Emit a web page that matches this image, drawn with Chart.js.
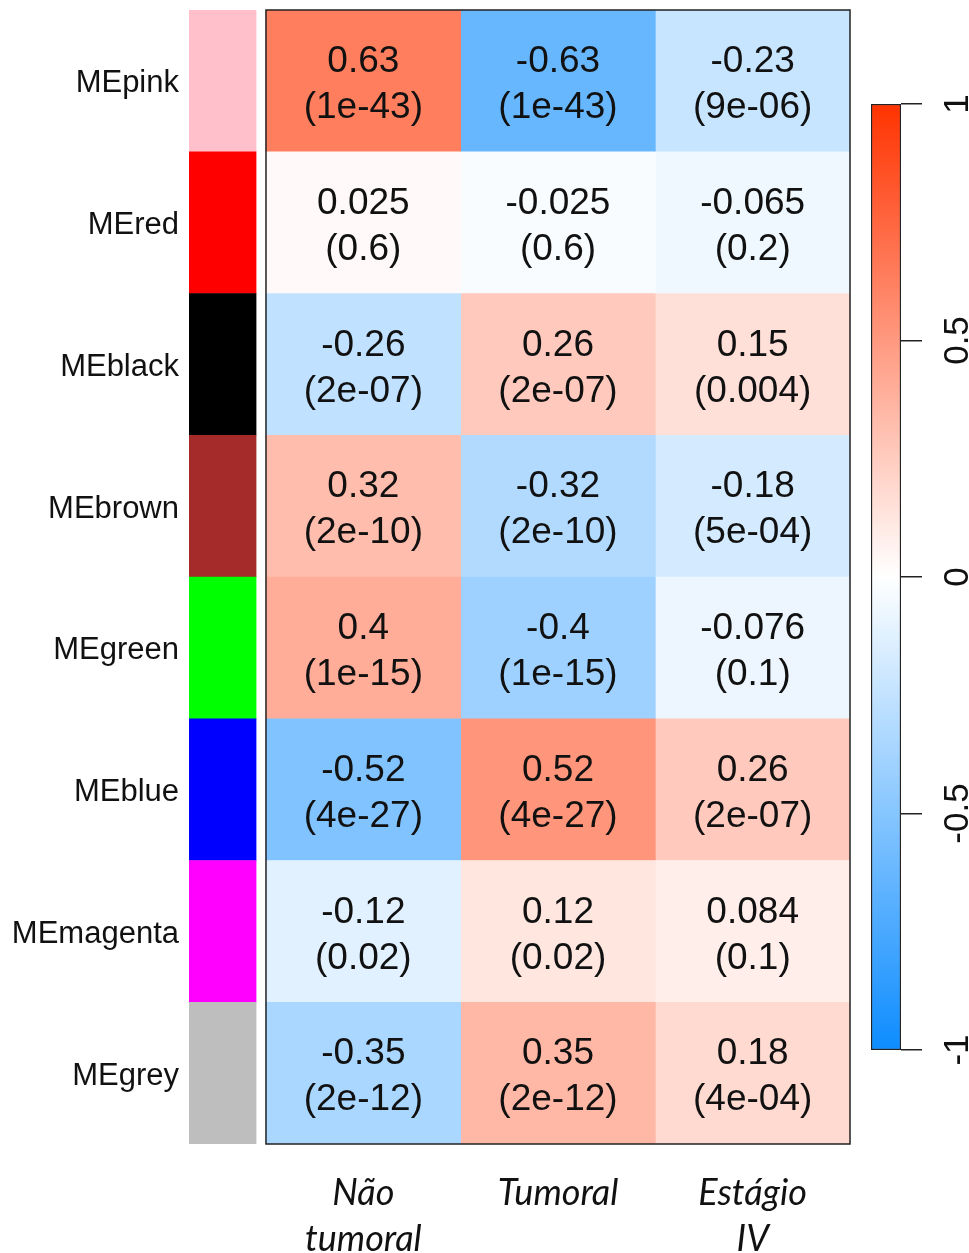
<!DOCTYPE html>
<html lang="pt">
<head>
    <meta charset="UTF-8">
    <title>Module-trait heatmap</title>
    <script src="https://cdn.jsdelivr.net/npm/chart.js"></script>
    <style>
        body { margin: 0; background: #fff; }
        #wrap { position: relative; width: 969px; height: 1253px; }
        #heatBox { position: absolute; left: 0; top: 0; width: 860px; height: 1253px; }
        #barBox { position: absolute; left: 860px; top: 0; width: 109px; height: 1253px; }
    </style>
</head>
<body>
<div id="wrap">
    <div id="heatBox"><canvas id="heatChart"></canvas></div>
    <div id="barBox"><canvas id="scaleChart"></canvas></div>
</div>
<script>
    // module eigengenes (rows) and traits (columns)
    const modules = ['MEpink', 'MEred', 'MEblack', 'MEbrown', 'MEgreen', 'MEblue', 'MEmagenta', 'MEgrey'];
    const moduleColors = ['#FFC0CB', '#FF0000', '#000000', '#A52A2A', '#00FF00', '#0000FF', '#FF00FF', '#BEBEBE'];
    const traits = [['Não', 'tumoral'], 'Tumoral', ['Estágio', 'IV']];

    const corNaoTumoral = [0.63, 0.025, -0.26, 0.32, 0.4, -0.52, -0.12, -0.35];
    const corTumoral = [-0.63, -0.025, 0.26, -0.32, -0.4, 0.52, 0.12, 0.35];
    const corEstagioIV = [-0.23, -0.065, 0.15, -0.18, -0.076, 0.26, 0.084, 0.18];

    const pNaoTumoral = ['1e-43', '0.6', '2e-07', '2e-10', '1e-15', '4e-27', '0.02', '2e-12'];
    const pTumoral = ['1e-43', '0.6', '2e-07', '2e-10', '1e-15', '4e-27', '0.02', '2e-12'];
    const pEstagioIV = ['9e-06', '0.2', '0.004', '5e-04', '0.1', '2e-07', '0.1', '4e-04'];

    const scaleTicks = [-1, -0.5, 0, 0.5, 1];

    const corColumns = [corNaoTumoral, corTumoral, corEstagioIV];
    const pColumns = [pNaoTumoral, pTumoral, pEstagioIV];

    // blue - white - red palette
    const BLUE = [13, 140, 255];
    const RED = [255, 51, 0];
    function corColor(v) {
        const end = v < 0 ? BLUE : RED;
        const t = Math.min(1, Math.abs(v));
        const c = end.map(e => Math.round(255 + (e - 255) * t));
        return `rgb(${c[0]},${c[1]},${c[2]})`;
    }

    const X_MIN = -0.3955;      // room for the colour strip left of the heatmap
    const STRIP = [-0.3955, -0.051];

    const datasets = corColumns.map((col, c) => ({
        data: col.map(() => [c, c + 1]),
        backgroundColor: col.map(corColor),
        borderWidth: 0,
        grouped: false,
        barPercentage: 1,
        categoryPercentage: 1
    }));
    datasets.push({
        data: modules.map(() => STRIP),
        backgroundColor: moduleColors,
        borderWidth: 0,
        grouped: false,
        barPercentage: 1,
        categoryPercentage: 1
    });

    const cellText = {
        id: 'cellText',
        afterDatasetsDraw(chart) {
            const ctx = chart.ctx;
            const xs = chart.scales.x, ys = chart.scales.y;
            ctx.save();
            ctx.fillStyle = '#111';
            ctx.font = '37px "Liberation Sans", Arial, sans-serif';
            ctx.textAlign = 'center';
            ctx.textBaseline = 'middle';
            corColumns.forEach((col, c) => {
                const x = xs.getPixelForValue(c + 0.5);
                col.forEach((v, r) => {
                    const y = ys.getPixelForValue(r);
                    ctx.fillText(String(v), x, y - 19);
                    ctx.fillText('(' + pColumns[c][r] + ')', x, y + 27);
                });
            });
            // frame around the heatmap
            const a = chart.chartArea;
            const x0 = xs.getPixelForValue(0), x1 = xs.getPixelForValue(corColumns.length);
            ctx.strokeStyle = '#222';
            ctx.lineWidth = 1.5;
            ctx.strokeRect(x0, a.top, x1 - x0, a.bottom - a.top);
            ctx.restore();
        }
    };

    new Chart(document.getElementById('heatChart'), {
        type: 'bar',
        data: { labels: modules, datasets: datasets },
        options: {
            indexAxis: 'y',
            responsive: true,
            maintainAspectRatio: false,
            animation: false,
            layout: { padding: { top: 10, right: 10, bottom: 0, left: 0 } },
            plugins: { legend: { display: false }, tooltip: { enabled: false } },
            scales: {
                x: {
                    type: 'linear',
                    min: X_MIN,
                    max: 3,
                    grid: { display: false, drawTicks: false },
                    border: { display: false },
                    afterBuildTicks: s => { s.ticks = traits.map((_, i) => ({ value: i + 0.5 })); },
                    ticks: {
                        autoSkip: false,
                        maxRotation: 0,
                        minRotation: 0,
                        padding: 26,
                        color: '#111',
                        font: { family: 'Lato, "Open Sans", sans-serif', size: 36, style: 'italic', lineHeight: 1.28 },
                        callback: (v) => traits[Math.floor(v)]
                    },
                    afterFit: s => { s.height = 109; s.paddingLeft = 0; s.paddingRight = 0; }
                },
                y: {
                    type: 'category',
                    grid: { display: false, drawTicks: false },
                    border: { display: false },
                    ticks: {
                        padding: 10,
                        labelOffset: 3,
                        color: '#111',
                        font: { family: '"Liberation Sans", Arial, sans-serif', size: 31 }
                    },
                    afterFit: s => { s.width = 189; s.paddingTop = 0; s.paddingBottom = 0; }
                }
            }
        },
        plugins: [cellText]
    });

    // colour scale bar
    const scaleLabels = {
        id: 'scaleLabels',
        afterDraw(chart) {
            const ctx = chart.ctx;
            const ys = chart.scales.y;
            ctx.save();
            ctx.fillStyle = '#111';
            ctx.font = '35px "Liberation Sans", Arial, sans-serif';
            ctx.textAlign = 'center';
            ctx.textBaseline = 'middle';
            scaleTicks.forEach(t => {
                ctx.save();
                ctx.translate(98, ys.getPixelForValue(t));
                ctx.rotate(-Math.PI / 2);
                ctx.fillText(String(t), 0, 0);
                ctx.restore();
            });
            ctx.restore();
        }
    };

    new Chart(document.getElementById('scaleChart'), {
        type: 'bar',
        data: {
            labels: [''],
            datasets: [{
                data: [[-1, 1]],
                backgroundColor: (ctx) => {
                    const a = ctx.chart.chartArea;
                    if (!a) return '#fff';
                    const g = ctx.chart.ctx.createLinearGradient(0, a.bottom, 0, a.top);
                    g.addColorStop(0, corColor(-1));
                    g.addColorStop(0.5, corColor(0));
                    g.addColorStop(1, corColor(1));
                    return g;
                },
                borderColor: '#222',
                borderWidth: 1.5,
                borderSkipped: false,
                barPercentage: 1,
                categoryPercentage: 1
            }]
        },
        options: {
            responsive: true,
            maintainAspectRatio: false,
            animation: false,
            layout: { padding: { top: 104, bottom: 203, left: 11, right: 0 } },
            plugins: { legend: { display: false }, tooltip: { enabled: false } },
            scales: {
                x: { display: false },
                y: {
                    position: 'right',
                    min: -1,
                    max: 1,
                    afterBuildTicks: s => { s.ticks = scaleTicks.map(v => ({ value: v })); },
                    grid: { drawOnChartArea: false, drawTicks: true, tickLength: 21, color: '#222', lineWidth: 1.5 },
                    border: { display: false },
                    ticks: { display: false },
                    afterFit: s => { s.width = 68; s.paddingTop = 0; s.paddingBottom = 0; }
                }
            }
        },
        plugins: [scaleLabels]
    });
</script>
</body>
</html>
